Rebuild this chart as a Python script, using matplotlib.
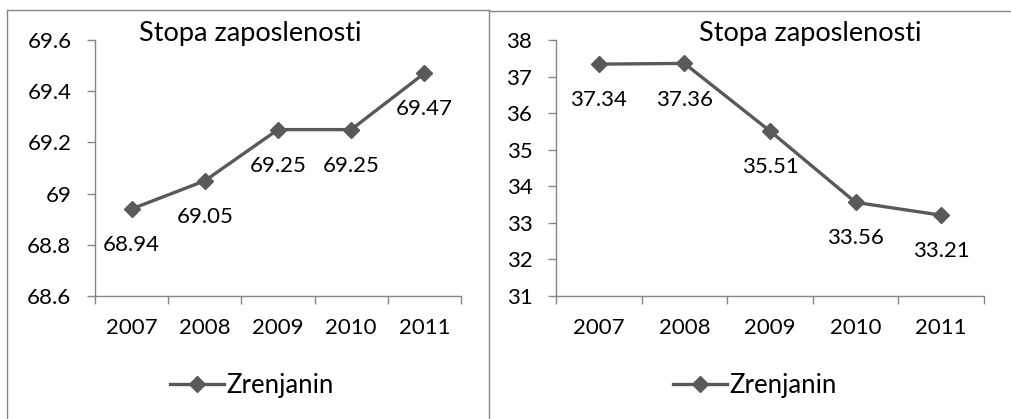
import matplotlib
matplotlib.use('Agg')
import matplotlib.pyplot as plt
from matplotlib.lines import Line2D

plt.rcParams['font.family'] = ['Lato', 'DejaVu Sans']

years = ['2007', '2008', '2009', '2010', '2011']
title = 'Stopa zaposlenosti'
series_name = 'Zrenjanin'

left_values = [68.94, 69.05, 69.25, 69.25, 69.47]
left_ticks = [68.6, 68.8, 69.0, 69.2, 69.4, 69.6]
left_ticklabels = ['68.6', '68.8', '69', '69.2', '69.4', '69.6']

right_values = [37.34, 37.36, 35.51, 33.56, 33.21]
right_ticks = [31, 32, 33, 34, 35, 36, 37, 38]
right_ticklabels = ['31', '32', '33', '34', '35', '36', '37', '38']

W, H = 1012, 419
LINE = '#595959'
AXC = '#868686'
FS = 16        # tick + data labels
FS_TITLE = 19.5
FS_LEG = 18.5


def px_box(x0, y0, x1, y1):
    # pixel box (top-left origin) -> figure fraction rect
    return [x0 / W, (H - y1) / H, (x1 - x0) / W, (y1 - y0) / H]


def draw_chart(fig, rect, values, ticks, ticklabels, title_xy, legend_xy):
    ax = fig.add_axes(rect)
    x = list(range(1, len(values) + 1))
    ax.plot(x, values, color=LINE, lw=2.4, marker='D', markersize=8,
            markerfacecolor=LINE, markeredgecolor=LINE, label=series_name)
    for xi, v in zip(x, values):
        ax.annotate(f'{v:.2f}', (xi, v), xytext=(0, -26), textcoords='offset points',
                    ha='center', va='center', fontsize=FS, color='black')
    ax.set_xlim(0.5, len(values) + 0.5)
    ax.set_ylim(ticks[0], ticks[-1])
    ax.set_yticks(ticks)
    ax.set_yticklabels(ticklabels)
    ax.set_xticks(x)
    ax.set_xticklabels(years)
    ax.set_xticks([i + 0.5 for i in range(0, len(values) + 1)], minor=True)
    ax.tick_params(axis='x', which='major', length=0, pad=16, labelsize=FS)
    ax.tick_params(axis='x', which='minor', length=6, color=AXC, width=1)
    ax.tick_params(axis='y', length=6, color=AXC, width=1, pad=11, labelsize=FS)
    for s in ['top', 'right']:
        ax.spines[s].set_visible(False)
    for s in ['left', 'bottom']:
        ax.spines[s].set_color(AXC)
        ax.spines[s].set_linewidth(1)
    fig.text(title_xy[0] / W, 1 - title_xy[1] / H, title, ha='center', va='center',
             fontsize=FS_TITLE, color='black')
    ax.legend(loc='center', bbox_to_anchor=(legend_xy[0] / W, 1 - legend_xy[1] / H),
              bbox_transform=fig.transFigure, frameon=False, fontsize=FS_LEG,
              handlelength=2.1, handletextpad=0.1, borderpad=0, borderaxespad=0)
    return ax


fig = plt.figure(figsize=(W / 100, H / 100), dpi=100)

draw_chart(fig, px_box(95, 40, 461, 296), left_values, left_ticks, left_ticklabels,
           (250, 33), (252, 385))
draw_chart(fig, px_box(556, 40, 984, 296), right_values, right_ticks, right_ticklabels,
           (810, 33), (755, 385))

# chart frames
def fig_line(xs, ys):
    fig.add_artist(Line2D([v / W for v in xs], [1 - v / H for v in ys],
                          color=AXC, lw=1, transform=fig.transFigure))

fig_line([7, 489], [10, 10])
fig_line([7, 7], [10, 419])
fig_line([489, 489], [10, 419])
fig_line([489, 1012], [11, 11])

fig.savefig('out.png', dpi=100)
